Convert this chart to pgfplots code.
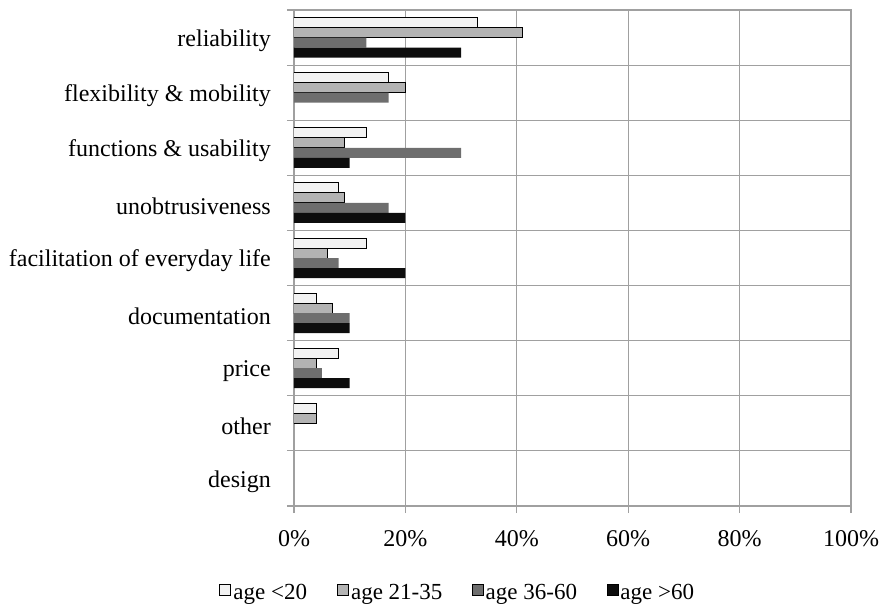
\documentclass[border=0pt]{standalone}
\usepackage{fontspec}
\setmainfont{Liberation Serif}
\usepackage{pgfplots}
\pgfplotsset{compat=1.18}

\definecolor{cA}{HTML}{F2F2F2}
\definecolor{cB}{HTML}{B3B3B3}
\definecolor{cC}{HTML}{6E6E6E}
\definecolor{cD}{HTML}{0D0D0D}
\definecolor{gridc}{HTML}{A0A0A0}

\begin{document}
\fontsize{24bp}{28bp}\selectfont
\begin{tikzpicture}
\begin{axis}[
  scale only axis,
  width=557bp, height=496bp,
  xbar=0pt, bar width=10bp,
  y dir=reverse,
  xmin=0, xmax=100,
  ymin=-0.5, ymax=8.5,
  xtick={0,20,...,100},
  xticklabel={\pgfmathprintnumber{\tick}\%},
  /pgf/number format/assume math mode=true,
  xmajorgrids,
  xtick pos=bottom, ytick pos=left,
  ytick={-0.5,0.5,...,8.5},
  yticklabels={,,,,,,,,,,},
  ymajorgrids,
  extra y ticks={0,1,...,8},
  extra y tick labels={reliability,flexibility \& mobility,functions \& usability,unobtrusiveness,facilitation of everyday life,documentation,price,other,design},
  extra y tick style={grid=none, tick style={draw=none},
    yticklabel style={xshift=-8bp, yshift=-3bp}},
  tick align=outside,
  major tick length=7bp,
  tick style={gridc, line width=1.2bp},
  grid style={gridc, line width=1.2bp},
  axis line style={gridc, line width=1.2bp},
  xticklabel style={yshift=-9bp},
  legend columns=4,
  legend style={draw=none, at={(0.294,-0.176)}, anchor=center,
    /tikz/every even column/.append style={column sep=28bp},
    font=\fontsize{23bp}{27bp}\selectfont},
  legend image code/.code={\draw[#1] (-3bp,-2bp) rectangle (8bp,9bp);},
]
\addplot[fill=cA, draw=black, line width=1bp, bar shift=15bp]
  coordinates {(33,0) (17,1) (13,2) (8,3) (13,4) (4,5) (8,6) (4,7)};
\addplot[fill=cB, draw=black, line width=1bp, bar shift=5bp]
  coordinates {(41,0) (20,1) (9,2) (9,3) (6,4) (7,5) (4,6) (4,7)};
\addplot[fill=cC, draw=none, bar shift=-5bp]
  coordinates {(13,0) (17,1) (30,2) (17,3) (8,4) (10,5) (5,6)};
\addplot[fill=cD, draw=none, bar shift=-15bp]
  coordinates {(30,0) (10,2) (20,3) (20,4) (10,5) (10,6)};
\legend{age <20, age 21-35, age 36-60, age >60}
\end{axis}
\pgfresetboundingbox
\path[use as bounding box] (-294bp,-99bp) rectangle (586bp,506bp);
\end{tikzpicture}
\end{document}
